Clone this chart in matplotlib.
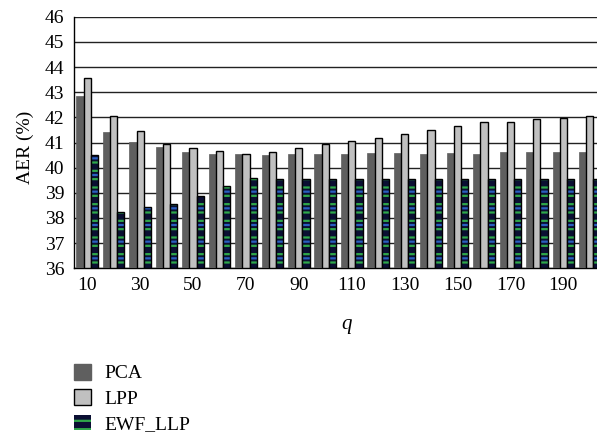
import matplotlib
matplotlib.use("Agg")
import matplotlib.pyplot as plt
from matplotlib.patches import Patch
import numpy as np

plt.rcParams["font.family"] = ["Liberation Serif", "DejaVu Serif"]
plt.rcParams["hatch.linewidth"] = 1.6

q_values = [10, 20, 30, 40, 50, 60, 70, 80, 90, 100,
            110, 120, 130, 140, 150, 160, 170, 180, 190, 200]
tick_labels = ["10", "30", "50", "70", "90", "110", "130", "150", "170", "190"]

pca = [42.85, 41.42, 41.02, 40.82, 40.62, 40.56, 40.54, 40.50, 40.54, 40.54,
       40.54, 40.58, 40.58, 40.54, 40.58, 40.54, 40.62, 40.62, 40.62, 40.62]
lpp = [43.58, 42.04, 41.44, 40.93, 40.79, 40.66, 40.54, 40.62, 40.79, 40.93,
       41.05, 41.19, 41.35, 41.48, 41.66, 41.83, 41.83, 41.92, 41.97, 42.04]
ewf_llp = [40.49, 38.24, 38.44, 38.57, 38.86, 39.27, 39.60, 39.56, 39.55, 39.55,
           39.55, 39.55, 39.55, 39.55, 39.55, 39.55, 39.55, 39.55, 39.55, 39.55]

y_min, y_max = 36, 46
fs = 14
navy, green, blue = "#0b0f33", "#2fa84a", "#2a5fc0"

fig = plt.figure(figsize=(5.97, 4.37), dpi=100)
# plot area runs slightly past the right edge of the canvas
ax = fig.add_axes([74 / 597, (437 - 268.3) / 437, 529 / 597, 251.6 / 437])

x = np.arange(len(q_values))
w = 0.272
base = y_min

ax.bar(x - w, np.array(pca) - base, w, bottom=base, color="#5f5f5f",
       edgecolor="#5f5f5f", linewidth=0.5, zorder=3)
ax.bar(x, np.array(lpp) - base, w, bottom=base, color="#c0c0c0",
       edgecolor="black", linewidth=1.0, zorder=3)
# EWF_LLP: navy fill with alternating green / blue dashes, black outline
ewf_h = np.array(ewf_llp) - base
ax.bar(x + w, ewf_h, w, bottom=base, color=navy,
       edgecolor=green, hatch="--", linewidth=0, zorder=3)
ax.bar(x + w, ewf_h, w, bottom=base, color="none",
       edgecolor=blue, hatch="-", linewidth=0, zorder=3.5)
ax.bar(x + w, ewf_h, w, bottom=base, color="none",
       edgecolor="black", linewidth=1.0, zorder=4)

ax.set_xlim(-0.5, len(q_values) - 0.5)
ax.set_ylim(y_min, y_max)
ax.set_yticks(np.arange(y_min, y_max + 1, 1))
ax.set_xticks(x[::2])
ax.set_xticklabels(tick_labels)
ax.tick_params(axis="both", length=0, labelsize=fs)
ax.tick_params(axis="y", pad=7)
ax.tick_params(axis="x", pad=6)

ax.yaxis.grid(True, color="#222222", linewidth=1.0, zorder=0)
ax.set_axisbelow(True)
for side in ("top", "right"):
    ax.spines[side].set_visible(False)
ax.spines["left"].set_color("black")
ax.spines["bottom"].set_color("black")
ax.spines["left"].set_linewidth(1.0)
ax.spines["bottom"].set_linewidth(1.0)

fig.text(25 / 597, 1 - 147 / 437, "AER (%)", rotation=90, ha="center",
         va="center", fontsize=fs)
fig.text(347 / 597, 1 - 324 / 437, "q", style="italic", ha="center",
         va="center", fontsize=fs + 1)

handles = [
    Patch(facecolor="#5f5f5f", edgecolor="#5f5f5f"),
    Patch(facecolor="#c0c0c0", edgecolor="black", linewidth=1.0),
    Patch(facecolor=navy, edgecolor=green, hatch="--", linewidth=0),
]
leg = fig.legend(handles, ["PCA", "LPP", "EWF_LLP"], loc="upper left",
                 bbox_to_anchor=(74 / 597, 1 - 364 / 437), frameon=False,
                 fontsize=fs, handlelength=0.85, handleheight=0.85,
                 labelspacing=0.36, handletextpad=0.7, borderpad=0,
                 borderaxespad=0)

fig.savefig("out.png", dpi=100)
